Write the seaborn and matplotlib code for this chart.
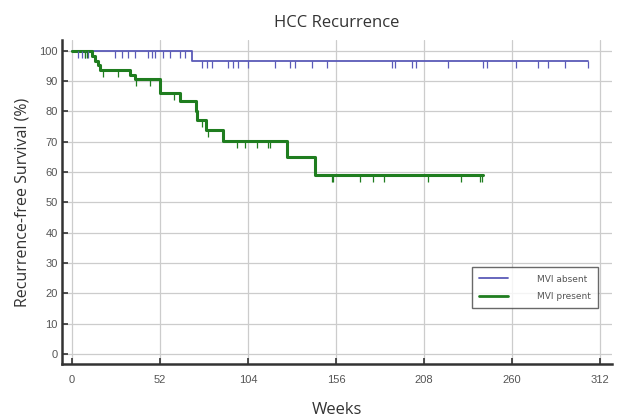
import numpy as np
import pandas as pd
import seaborn as sns
import matplotlib.pyplot as plt

# step curves (weeks, recurrence-free survival %)
absent_t = [0, 71, 305]
absent_s = [100, 96.6, 96.6]
absent_cens = [3.5, 5.9, 7.7, 9.5, 25.4, 29.6, 33.1, 37.2, 44.9, 47.3, 49.1, 53.8,
               57.9, 63.8, 66.8, 76.8, 79.8, 82.7, 92.2, 95.2, 98.1, 104, 120,
               128.8, 131.8, 141.8, 150.7, 189, 191, 201, 203, 222, 243, 245,
               262, 275, 281, 291, 305]

present_t = [0, 12, 13.5, 15, 16.5, 34, 37, 52, 64, 73, 74, 79, 89, 127, 143.5, 243]
present_s = [100, 98.2, 96.5, 95.4, 93.6, 92, 90.6, 86.2, 83.5, 80, 77.2, 73.9,
             70.4, 65, 59.1, 59.1]
present_cens = [7.7, 8.9, 18.3, 27, 38, 46, 60, 76.8, 80.4, 97.5, 102, 109, 116, 117,
                153.7, 154, 170, 178, 184, 210, 230, 241, 242]

groups = ["MVI absent", "MVI present"]
colors = ["#5a5ab8", "#1f7d1f"]
xticks = [0, 52, 104, 156, 208, 260, 312]
yticks = list(range(0, 101, 10))

curves = pd.concat([
    pd.DataFrame({"Weeks": absent_t, "Survival": absent_s, "group": groups[0]}),
    pd.DataFrame({"Weeks": present_t, "Survival": present_s, "group": groups[1]}),
])


def level_at(times, levels, t):
    i = np.searchsorted(times, t, side="right") - 1
    return np.array(levels)[i]


sns.set_style("white")
fig = plt.figure(figsize=(6.23, 4.19), dpi=100)
ax = fig.add_axes([0.0995, 0.131, 0.883, 0.774])

sns.lineplot(data=curves, x="Weeks", y="Survival", hue="group", palette=colors,
             drawstyle="steps-post", estimator=None, sort=False, ax=ax, legend=False)
for line, lw in zip(ax.get_lines(), [1.3, 2.2]):
    line.set_linewidth(lw)

ax.plot(absent_cens, level_at(absent_t, absent_s, absent_cens), ls="none",
        marker=3, ms=5, mew=0.9, color=colors[0])
ax.plot(present_cens, level_at(present_t, present_s, present_cens), ls="none",
        marker=3, ms=5, mew=0.9, color=colors[1])

ax.set_xlim(-6, 319)
ax.set_ylim(-3.3, 103.6)
ax.set_xticks(xticks)
ax.set_yticks(yticks)
ax.grid(True, color="#cccccc", lw=0.9)
for s in ["top", "right"]:
    ax.spines[s].set_visible(False)
for s in ["left", "bottom"]:
    ax.spines[s].set_color("#333333")
    ax.spines[s].set_linewidth(1.8)
ax.tick_params(direction="in", length=4, width=1.2, color="#333333",
               labelsize=8, labelcolor="#555555", left=True, bottom=True)
ax.tick_params(axis="x", pad=8)
ax.tick_params(axis="y", pad=3)
for lab in ax.get_xticklabels() + ax.get_yticklabels():
    lab.set_family("Liberation Sans")

ax.set_xlabel("Weeks", fontsize=12, color="#333333", family="Open Sans", labelpad=12)
ax.set_ylabel("Recurrence-free Survival (%)", fontsize=11.5, color="#333333",
              family="Open Sans", labelpad=6)
ax.set_title("HCC Recurrence", fontsize=12, color="#333333", family="Open Sans", pad=9)

handles = [plt.Line2D([], [], color=colors[0], lw=1.3),
           plt.Line2D([], [], color=colors[1], lw=2.0)]
leg = ax.legend(handles, groups, loc="lower right", bbox_to_anchor=(0.975, 0.173),
                fontsize=6.5, frameon=True, fancybox=False, edgecolor="#444444",
                handlelength=3.2, labelspacing=0.9, borderpad=0.8, handletextpad=3.2,
                borderaxespad=0)
leg.get_frame().set_linewidth(1.0)
for t in leg.get_texts():
    t.set_color("#555555")

fig.savefig("out.png", dpi=100)
